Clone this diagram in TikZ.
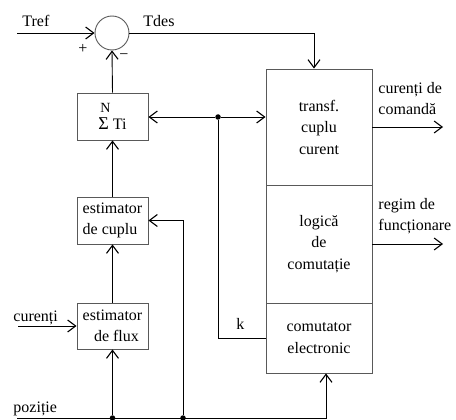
\documentclass[tikz,border=0pt]{standalone}
\usepackage{fontspec}
\setmainfont{Liberation Serif}
\usepackage{tikz}
\usetikzlibrary{positioning}
\usetikzlibrary{arrows.meta, calc}
\tikzstyle{arrow} = [-{Straight Barb[length=8pt,width=12pt,line width=1.1pt]}]
\tikzstyle{block} = [draw=black!65, rectangle, inner sep=0pt, font=\fontsize{16}{21.5}\selectfont]
\tikzstyle{dot} = [circle, fill, inner sep=0pt, minimum size=5.5pt]

\begin{document}
\begin{tikzpicture}[
    			x = 1pt, y = -1pt, line width = 0.9pt,
    			every node/.style = {font = \fontsize{16}{21}\selectfont}
  			]
  				\useasboundingbox (0,0) rectangle (456,420);

  				% Blocks
  				\node[draw = black!65, circle, minimum size = 34pt, inner sep = 0pt] (sum) at (112,33) {};
  				\node[block, minimum width = 71pt, minimum height = 47pt, align = left] (sigma) at (112.5,116.5)
  					{\hspace{2pt}{\fontsize{14}{14}\selectfont N}\\[-5pt]{\fontsize{18}{18}\selectfont Σ} Ti};
  				\node[block, minimum width = 71pt, minimum height = 47pt, align = left] (cuplu) at (112.5,220.5)
  					{estimator\\de cuplu};
  				\node[block, minimum width = 71pt, minimum height = 46pt, align = center] (flux) at (112.5,326)
  					{estimator\\\hspace{8pt}de flux};
  				\node[block, minimum width = 106pt, minimum height = 116pt, align = center] (transf) at (319,127)
  					{transf.\\cuplu\\curent};
  				\node[block, minimum width = 106pt, minimum height = 118pt, align = center] (logica) at (319,244)
  					{logică\\de\\comutație};
  				\node[block, minimum width = 106pt, minimum height = 70pt, align = center] (comut) at (319,338)
  					{comutator\\electronic};

  				% Points
  				\coordinate (tref) at (17,33);
  				\coordinate (curin) at (18,326);
  				\coordinate (poz) at (17,418);
  				\coordinate (out1) at (443,127);
  				\coordinate (out2) at (443,244);
  				\node[dot] (junc) at (218,117) {};
  				\node[dot] (dotA) at (112.5,418) {};
  				\node[dot] (dotB) at (183,418) {};

  				% Connectors
  				\draw[arrow] (tref) -- (sum.west);
  				\draw[arrow] (sum.east) -| ([xshift = -5pt]transf.north);
  				\draw[arrow] (sigma.north) -- (sum.south);
  				\draw[arrow] (cuplu.north) -- (sigma.south);
  				\draw[arrow] (flux.north) -- (cuplu.south);
  				\draw[arrow] (junc) -- (junc -| sigma.east);
  				\draw[arrow] (junc) -- (junc -| transf.west);
  				\draw (junc) |- (comut.west);
  				\draw[arrow] (curin) -- (flux.west);
  				\draw[arrow] (poz) -| ([xshift = 7pt]comut.south);
  				\draw[arrow] (dotA) -- (flux.south);
  				\draw[arrow] (dotB) |- (cuplu.east);
  				\draw[arrow] (transf.east) -- (out1);
  				\draw[arrow] (logica.east) -- (out2);

  				% Labels
  				\begin{scope}[nodes = {inner sep = 0pt}]
    				\node[anchor = base west] (trefl) at (22,27) {Tref};
    				\node[anchor = base west] (tdesl) at (143,27) {Tdes};
    				\node (plus) at (83,49) {+};
    				\node (minus) at (124,57) {−};
    				\node[anchor = base west] (curinl) at (13,321) {curenți};
    				\node[anchor = base west] (pozl) at (13,412) {poziție};
    				\node[anchor = base west] (kl) at (236,329) {k};
    				\node[anchor = north west, align = left] (out1l) at (378,82) {curenți de\\comandă};
    				\node[anchor = north west, align = left] (out2l) at (378,198) {regim de\\funcționare};
  				\end{scope}
			\end{tikzpicture}
\end{document}
